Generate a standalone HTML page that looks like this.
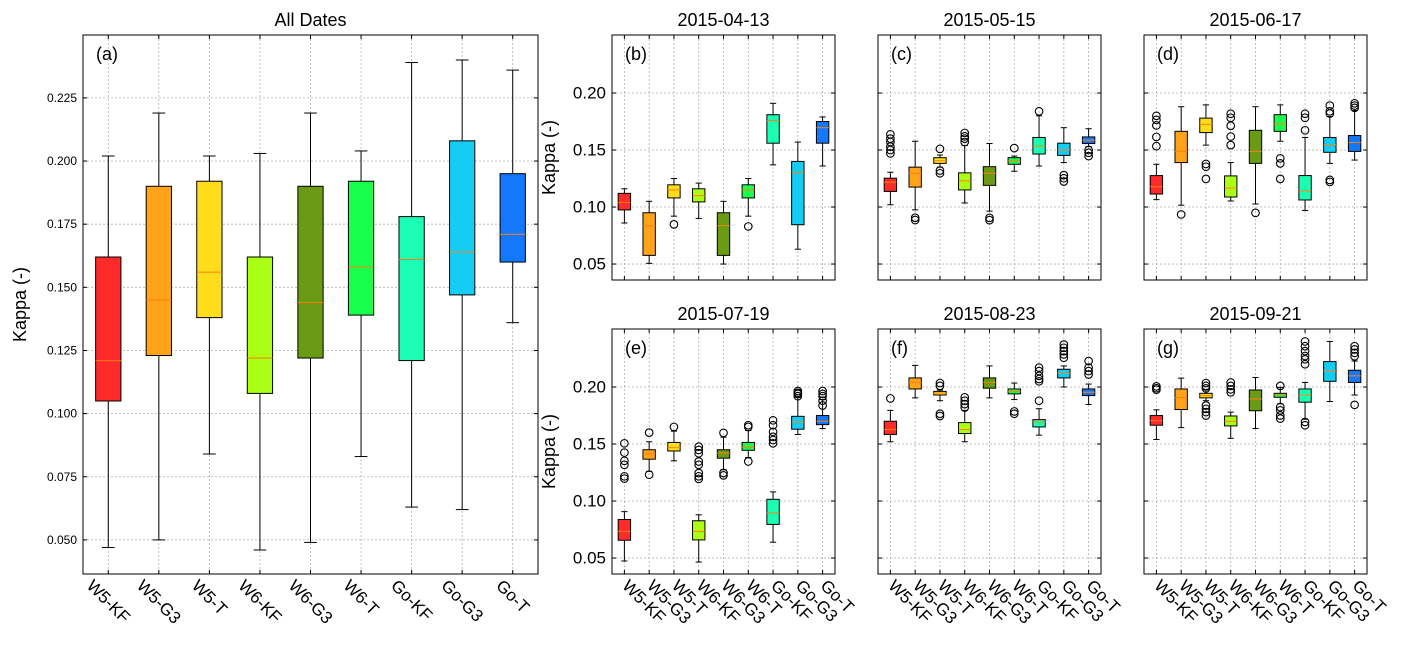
<!DOCTYPE html>
<html><head><meta charset="utf-8">
<style>
html,body{margin:0;padding:0;background:#fff;}
svg{display:block;font-family:"Liberation Sans",sans-serif;}
</style></head>
<body>
<svg id="chart" width="1411" height="648" viewBox="0 0 1411 648"></svg>
<script>
const categories=["W5-KF","W5-G3","W5-T","W6-KF","W6-G3","W6-T","Go-KF","Go-G3","Go-T"];
const colors=["#ff2a2a","#ffa318","#ffdd1a","#aaff14","#6b9b14","#1aff4d","#1affb4","#14cdf5","#1478ff"];
const mainTicks=[0.050,0.075,0.100,0.125,0.150,0.175,0.200,0.225];
const smallTicks=[0.05,0.10,0.15,0.20];

const aLo=[0.047,0.050,0.084,0.046,0.049,0.083,0.063,0.062,0.136];
const aQ1=[0.105,0.123,0.138,0.108,0.122,0.139,0.121,0.147,0.160];
const aMed=[0.121,0.145,0.156,0.122,0.144,0.158,0.161,0.164,0.171];
const aQ3=[0.162,0.190,0.192,0.162,0.190,0.192,0.178,0.208,0.195];
const aHi=[0.202,0.219,0.202,0.203,0.219,0.204,0.239,0.240,0.236];
const aOut=[[],[],[],[],[],[],[],[],[]];

const bLo=[0.086,0.0506,0.092,0.090,0.050,0.092,0.137,0.063,0.136];
const bQ1=[0.0975,0.0576,0.108,0.1045,0.0576,0.108,0.156,0.0845,0.156];
const bMed=[0.104,0.0836,0.115,0.110,0.0836,0.115,0.176,0.1305,0.1696];
const bQ3=[0.112,0.095,0.1195,0.116,0.095,0.1195,0.181,0.140,0.175];
const bHi=[0.116,0.105,0.125,0.121,0.105,0.125,0.191,0.157,0.179];
const bOut=[[],[],[0.0848],[],[],[0.083],[],[],[]];

const cLo=[0.102,0.0975,0.135,0.1036,0.0964,0.1314,0.136,0.139,0.153];
const cQ1=[0.1137,0.1175,0.1383,0.115,0.119,0.1375,0.1465,0.1453,0.1557];
const cMed=[0.1218,0.1296,0.1406,0.123,0.1296,0.1406,0.1534,0.150,0.1586];
const cQ3=[0.1253,0.135,0.1433,0.130,0.1354,0.1433,0.161,0.156,0.1615];
const cHi=[0.1305,0.1577,0.1456,0.154,0.1557,0.1447,0.180,0.1696,0.1687];
const cOut=[[0.1638,0.160,0.157,0.153,0.150,0.147],[0.0906,0.0886],[0.151,0.132,0.1296],[0.165,0.162,0.160,0.157],[0.0905,0.0885],[0.1517],[0.184],[0.128,0.1253,0.1224],[0.150,0.1476,0.1447]];

const dLo=[0.1065,0.1016,0.1543,0.1053,0.1027,0.1577,0.097,0.1383,0.1412];
const dQ1=[0.1114,0.139,0.1653,0.1088,0.1383,0.1664,0.1062,0.148,0.1488];
const dMed=[0.1178,0.149,0.1725,0.1166,0.1488,0.173,0.1143,0.1548,0.1566];
const dQ3=[0.1276,0.1664,0.178,0.1273,0.1673,0.181,0.1276,0.161,0.1627];
const dHi=[0.1375,0.188,0.1896,0.139,0.188,0.1896,0.161,0.1794,0.1847];
const dOut=[[0.180,0.1765,0.1716,0.1615,0.1534],[0.0935],[0.1378,0.1354,0.1247],[0.1818,0.1783,0.1713,0.1618,0.1543],[0.0949],[0.1427,0.1383,0.1247],[0.1818,0.1783,0.1673],[0.189,0.184,0.182,0.1238,0.122],[0.191,0.189,0.187]];

const eLo=[0.0474,0.126,0.1353,0.0465,0.1275,0.1382,0.0639,0.1584,0.1636];
const eQ1=[0.0656,0.1367,0.1439,0.0659,0.1376,0.1445,0.0795,0.163,0.167];
const eMed=[0.0734,0.1413,0.1468,0.0734,0.1422,0.1471,0.0896,0.1694,0.170];
const eQ3=[0.0838,0.145,0.1514,0.0827,0.145,0.1514,0.1015,0.1743,0.175];
const eHi=[0.0907,0.152,0.1613,0.0879,0.156,0.1618,0.108,0.191,0.189];
const eOut=[[0.1506,0.1425,0.1353,0.1318,0.1217,0.1197],[0.160,0.1231],[0.165],[0.1477,0.1448,0.1419,0.1347,0.1318,0.1246,0.1217,0.1194],[0.1598,0.1246,0.1225],[0.1665,0.165,0.1347],[0.1708,0.1665,0.1607,0.1564,0.1535,0.1506],[0.1965,0.195,0.194,0.192],[0.1965,0.194,0.192,0.188,0.1838]];

const fLo=[0.152,0.1905,0.188,0.152,0.1905,0.189,0.1578,0.200,0.1847];
const fQ1=[0.1584,0.1983,0.193,0.1592,0.199,0.194,0.165,0.208,0.1925];
const fMed=[0.1627,0.204,0.1948,0.1627,0.204,0.1962,0.1694,0.212,0.1954];
const fQ3=[0.170,0.208,0.1962,0.1688,0.208,0.1983,0.1714,0.2156,0.1983];
const fHi=[0.1795,0.219,0.1974,0.1795,0.2185,0.2035,0.181,0.2185,0.2026];
const fOut=[[0.190],[],[0.2035,0.201,0.1766,0.1746],[0.191,0.188,0.185,0.182],[],[0.1786,0.1766],[0.217,0.214,0.2098,0.207,0.205,0.188],[0.2373,0.2344,0.2315,0.2286,0.2257],[0.2228,0.217,0.214,0.211]];

const gLo=[0.154,0.1644,0.188,0.155,0.1636,0.1853,0.1717,0.1873,0.193];
const gQ1=[0.1665,0.1803,0.1905,0.1659,0.1792,0.191,0.1867,0.205,0.204];
const gMed=[0.1705,0.1907,0.1925,0.170,0.1896,0.193,0.193,0.2142,0.2098];
const gQ3=[0.175,0.1983,0.1945,0.1746,0.1974,0.1945,0.1983,0.2223,0.2147];
const gHi=[0.180,0.2078,0.1974,0.178,0.2084,0.1997,0.204,0.240,0.2228];
const gOut=[[0.2006,0.199,0.1977],[],[0.2035,0.201,0.1988,0.1838,0.1809,0.178,0.175],[0.204,0.201,0.198,0.1954],[],[0.201,0.1824,0.1795,0.175,0.1723],[0.240,0.2358,0.2315,0.2272,0.2243,0.22,0.1694,0.1665],[],[0.2358,0.233,0.23,0.227,0.1844]];

const NS="http://www.w3.org/2000/svg";
const svg=document.getElementById('chart');
function mk(tag,attrs,parent){const e=document.createElementNS(NS,tag);for(const k in attrs)e.setAttribute(k,attrs[k]);(parent||svg).appendChild(e);return e;}

function panel(cfg){
  const {x0,x1,y0,y1,ymin,ymax,ticks,tickFmt,tickSize,showY,showX,title,label,lo,q1,med,q3,hi,out,name,xFont,leftAlign}=cfg;
  const g=mk('g',{});
  
  
  const xs=i=>x0+(i+0.5)*(x1-x0)/9;
  const ys=v=>y1-(v-ymin)/(ymax-ymin)*(y1-y0);
  const step=(x1-x0)/9;
  ticks.forEach(t=>{const l=mk('line',{x1:x0,x2:x1,y1:ys(t),y2:ys(t),stroke:'#b0b0b0','stroke-width':0.8,'stroke-dasharray':'2,2'},g);
    
    });
  categories.forEach((c,i)=>{const l=mk('line',{x1:xs(i),x2:xs(i),y1:y0,y2:y1,stroke:'#b0b0b0','stroke-width':0.8,'stroke-dasharray':'2,2'},g);
    
    });
  const bw=step*0.5, cw=step*0.25;
  categories.forEach((c,i)=>{
    const bg=mk('g',{},g);
    
    
    const x=xs(i);
    mk('line',{x1:x,x2:x,y1:ys(hi[i]),y2:ys(q3[i]),stroke:'#000','stroke-width':1},bg);
    mk('line',{x1:x,x2:x,y1:ys(q1[i]),y2:ys(lo[i]),stroke:'#000','stroke-width':1},bg);
    mk('line',{x1:x-cw/2,x2:x+cw/2,y1:ys(hi[i]),y2:ys(hi[i]),stroke:'#000','stroke-width':1},bg);
    mk('line',{x1:x-cw/2,x2:x+cw/2,y1:ys(lo[i]),y2:ys(lo[i]),stroke:'#000','stroke-width':1},bg);
    mk('rect',{x:x-bw/2,y:ys(q3[i]),width:bw,height:ys(q1[i])-ys(q3[i]),fill:colors[i],stroke:'#000','stroke-width':1},bg);
    mk('line',{x1:x-bw/2,x2:x+bw/2,y1:ys(med[i]),y2:ys(med[i]),stroke:'#ff7f0e','stroke-width':1},bg);
    out[i].forEach(v=>{const o=mk('circle',{cx:x,cy:ys(v),r:3.8,fill:'none',stroke:'#000','stroke-width':1.1},bg);
      
      });
  });
  mk('rect',{x:x0,y:y0,width:x1-x0,height:y1-y0,fill:'none',stroke:'#000','stroke-width':1},g);
  ticks.forEach(t=>{mk('line',{x1:x0,x2:x0+4,y1:ys(t),y2:ys(t),stroke:'#000'},g);mk('line',{x1:x1,x2:x1-4,y1:ys(t),y2:ys(t),stroke:'#000'},g);
    if(showY){const tl=mk('text',{x:x0-6,y:ys(t),'text-anchor':'end','dominant-baseline':'central','font-size':tickSize,fill:'#000'},g);tl.textContent=tickFmt(t);
      
      }});
  categories.forEach((c,i)=>{mk('line',{x1:xs(i),x2:xs(i),y1:y1,y2:y1-4,stroke:'#000'},g);mk('line',{x1:xs(i),x2:xs(i),y1:y0,y2:y0+4,stroke:'#000'},g);
    if(showX){const t=mk('text',{x:0,y:0,'text-anchor':'middle','dominant-baseline':'central','font-size':xFont,fill:'#000'},g);t.textContent=c;
      
      
      const L=t.getComputedTextLength();const h=(L+xFont*0.8)*0.7071;
      const cx=leftAlign? xs(i)+h/2-4 : xs(i);
      t.setAttribute('transform','translate('+cx+','+(y1+4+h/2)+') rotate(45)');}});
  const tt=mk('text',{x:(x0+x1)/2,y:y0-9,'text-anchor':'middle','font-size':18,fill:'#000'},g);tt.textContent=title;
  
  
  const pl=mk('text',{x:x0+13,y:y0+25,'font-size':18,fill:'#000'},g);pl.textContent=label;
  
  
  if(showY){const yl=mk('text',{x:0,y:0,'text-anchor':'middle','font-size':18,fill:'#000',transform:'translate('+(x0-cfg.ylabOff)+','+((y0+y1)/2)+') rotate(-90)'},g);yl.textContent='Kappa (-)';
    
    }
}
const f3=t=>t.toFixed(3), f2=t=>t.toFixed(2);
panel({x0:83,x1:538,y0:35,y1:574,ymin:0.0365,ymax:0.2499,ticks:mainTicks,tickFmt:f3,tickSize:12,showY:true,showX:true,title:'All Dates',label:'(a)',lo:aLo,q1:aQ1,med:aMed,q3:aQ3,hi:aHi,out:aOut,name:'panel-all-dates',xFont:17,ylabOff:57,leftAlign:false});
const sy={ymin:0.036,ymax:0.2509};
panel({x0:612,x1:835,y0:35,y1:280,...sy,ticks:smallTicks,tickFmt:f2,tickSize:17,showY:true,showX:false,title:'2015-04-13',label:'(b)',lo:bLo,q1:bQ1,med:bMed,q3:bQ3,hi:bHi,out:bOut,name:'panel-2015-04-13',xFont:17,ylabOff:57});
panel({x0:878,x1:1101,y0:35,y1:280,...sy,ticks:smallTicks,tickFmt:f2,tickSize:17,showY:false,showX:false,title:'2015-05-15',label:'(c)',lo:cLo,q1:cQ1,med:cMed,q3:cQ3,hi:cHi,out:cOut,name:'panel-2015-05-15',xFont:17});
panel({x0:1144,x1:1367,y0:35,y1:280,...sy,ticks:smallTicks,tickFmt:f2,tickSize:17,showY:false,showX:false,title:'2015-06-17',label:'(d)',lo:dLo,q1:dQ1,med:dMed,q3:dQ3,hi:dHi,out:dOut,name:'panel-2015-06-17',xFont:17});
panel({x0:612,x1:835,y0:329,y1:574,...sy,ticks:smallTicks,tickFmt:f2,tickSize:17,showY:true,showX:true,title:'2015-07-19',label:'(e)',lo:eLo,q1:eQ1,med:eMed,q3:eQ3,hi:eHi,out:eOut,name:'panel-2015-07-19',xFont:17,ylabOff:57,leftAlign:true});
panel({x0:878,x1:1101,y0:329,y1:574,...sy,ticks:smallTicks,tickFmt:f2,tickSize:17,showY:false,showX:true,title:'2015-08-23',label:'(f)',lo:fLo,q1:fQ1,med:fMed,q3:fQ3,hi:fHi,out:fOut,name:'panel-2015-08-23',xFont:17,leftAlign:true});
panel({x0:1144,x1:1367,y0:329,y1:574,...sy,ticks:smallTicks,tickFmt:f2,tickSize:17,showY:false,showX:true,title:'2015-09-21',label:'(g)',lo:gLo,q1:gQ1,med:gMed,q3:gQ3,hi:gHi,out:gOut,name:'panel-2015-09-21',xFont:17,leftAlign:true});
</script>
</body></html>
